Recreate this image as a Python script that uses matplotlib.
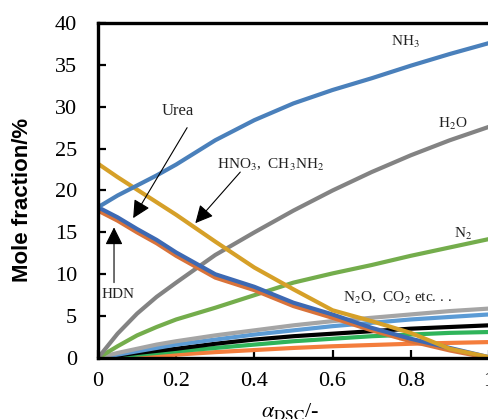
#Importing libraries
import numpy as np
import matplotlib
matplotlib.use("Agg")
import matplotlib.pyplot as plt

plt.rcParams['font.family'] = ['Liberation Serif', 'DejaVu Serif']
plt.rcParams['mathtext.fontset'] = 'stix'

#Mole fractions (%) against alpha_DSC
alpha = [0, 0.05, 0.1, 0.15, 0.2, 0.3, 0.4, 0.5, 0.6, 0.7, 0.8, 0.9, 1.0]

nh3 = [18.0, 19.4, 20.6, 21.8, 23.1, 26.0, 28.4, 30.4, 32.0, 33.4, 34.9, 36.3, 37.6]
h2o = [0.0, 2.9, 5.3, 7.3, 9.0, 12.3, 15.0, 17.6, 20.0, 22.2, 24.2, 26.0, 27.6]
n2 = [0.0, 1.4, 2.7, 3.7, 4.6, 6.0, 7.5, 9.0, 10.1, 11.1, 12.2, 13.2, 14.2]
hno3 = [23.2, 21.6, 20.1, 18.6, 17.1, 13.9, 10.8, 8.2, 5.7, 4.4, 3.0, 1.1, 0.1]
urea = [18.0, 16.8, 15.4, 14.1, 12.6, 10.0, 8.5, 6.6, 5.2, 3.6, 2.3, 1.2, 0.1]
hdn = [17.6, 16.4, 15.0, 13.7, 12.2, 9.6, 8.1, 6.2, 4.8, 3.3, 2.0, 0.9, 0.0]

#minor products
minor_a = [0.0, 0.6, 1.1, 1.6, 2.0, 2.7, 3.3, 3.9, 4.4, 4.8, 5.2, 5.6, 5.9]
minor_b = [0.0, 0.4, 0.8, 1.2, 1.6, 2.2, 2.8, 3.3, 3.8, 4.2, 4.6, 4.9, 5.2]
minor_c = [0.0, 0.3, 0.6, 0.85, 1.1, 1.7, 2.2, 2.6, 2.9, 3.2, 3.5, 3.7, 3.9]
minor_d = [0.0, 0.2, 0.4, 0.6, 0.8, 1.2, 1.6, 2.0, 2.3, 2.6, 2.8, 3.0, 3.1]
minor_e = [0.0, 0.05, 0.15, 0.25, 0.4, 0.7, 0.95, 1.2, 1.4, 1.55, 1.7, 1.8, 1.9]

xticks = [0, 0.2, 0.4, 0.6, 0.8, 1.0]
xticklabels = ['0', '0.2', '0.4', '0.6', '0.8', '1']
yticks = [0, 5, 10, 15, 20, 25, 30, 35, 40]

fig = plt.figure(figsize=(4.88, 4.19), dpi=100)
ax = fig.add_axes([0.2008, 0.1456, 0.801, 0.7995])

lw = 3
#minor products first so the main curves sit on top
ax.plot(alpha, minor_e, color='#f47d3c', lw=lw)
ax.plot(alpha, minor_d, color='#2fb45a', lw=lw)
ax.plot(alpha, minor_c, color='black', lw=lw)
ax.plot(alpha, minor_b, color='#5b9bd5', lw=lw)
ax.plot(alpha, minor_a, color='#a5a5a5', lw=lw)

ax.plot(alpha, n2, color='#74ad4c', lw=lw)
ax.plot(alpha, h2o, color='#838383', lw=lw)
ax.plot(alpha, hdn, color='#d9733a', lw=lw)
ax.plot(alpha, urea, color='#3d69b3', lw=lw)
ax.plot(alpha, hno3, color='#d6a028', lw=lw)
ax.plot(alpha, nh3, color='#4a80bb', lw=lw)

#labels for the curves
tcol = '#222222'
fs = 11
ax.text(0.749, 37.3, r'NH$_3$', fontsize=fs, color=tcol)
ax.text(0.869, 27.5, r'H$_2$O', fontsize=fs, color=tcol)
ax.text(0.91, 14.3, r'N$_2$', fontsize=fs, color=tcol)
ax.text(0.628, 6.7, r'N$_2$O,  CO$_2$ etc. . .', fontsize=fs, color=tcol)
ax.text(0.305, 22.6, r'HNO$_3$,  CH$_3$NH$_2$', fontsize=fs, color=tcol)
ax.text(0.164, 29.0, 'Urea', fontsize=12, color=tcol)
ax.text(0.01, 7.2, 'HDN', fontsize=fs, color=tcol)

arrow = dict(arrowstyle='-|>,head_length=0.6,head_width=0.3', color='black',
             lw=0.8, mutation_scale=18, shrinkA=0, shrinkB=0)
ax.annotate('', xy=(0.09, 16.7), xytext=(0.228, 27.5), arrowprops=arrow)
ax.annotate('', xy=(0.249, 16.1), xytext=(0.364, 22.2), arrowprops=arrow)
ax.annotate('', xy=(0.041, 15.6), xytext=(0.041, 9.0), arrowprops=arrow)

#axes styling
ax.set_xlim(0, 1)
ax.set_ylim(0, 40)
ax.set_xticks(xticks)
ax.set_xticklabels(xticklabels)
ax.set_yticks(yticks)
ax.tick_params(direction='in', length=6, width=1.6, labelsize=16, color='black')
ax.tick_params(axis='y', pad=15)
ax.tick_params(axis='x', pad=10)
for s in ['left', 'bottom', 'top']:
    ax.spines[s].set_linewidth(2.4)
ax.spines['right'].set_visible(False)

fig.text(0.047, 0.523, 'Mole fraction/%', rotation=90, ha='center', va='center',
         fontsize=16, fontweight='bold', family=['Liberation Sans', 'DejaVu Sans'])
fig.text(0.594, 0.018, r'$\alpha_{\mathrm{DSC}}$/-', ha='center', va='center',
         fontsize=16)

plt.savefig('out.png', dpi=100)
